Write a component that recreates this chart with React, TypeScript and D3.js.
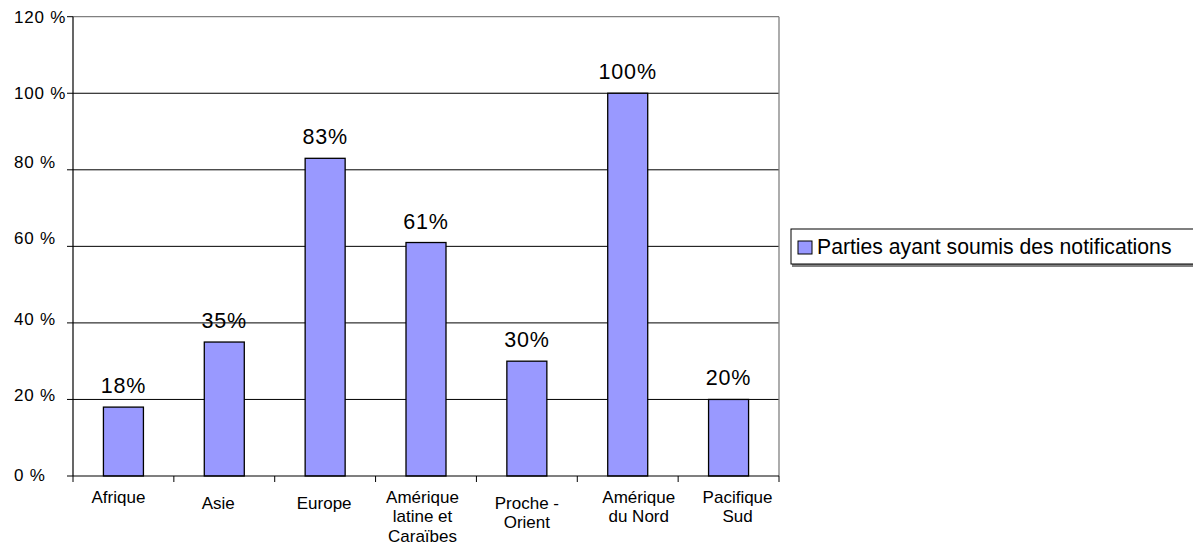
import React from "react";
import * as d3 from "d3";

// Share of parties that submitted notifications, by region
const categories: string[][] = [
  ["Afrique"],
  ["Asie"],
  ["Europe"],
  ["Amérique", "latine et", "Caraïbes"],
  ["Proche -", "Orient"],
  ["Amérique", "du Nord"],
  ["Pacifique", "Sud"],
];
const values: number[] = [18, 35, 83, 61, 30, 100, 20];
const yTicks: number[] = [0, 20, 40, 60, 80, 100, 120];
const seriesName = "Parties ayant soumis des notifications";

// label nudges (layout only)
const catDx: number[] = [-5, -6, -1, -3.5, 0, 11, 9];
const catDy: number[] = [0, 6, 6, 0, 6, 0, 0];
const tickDy: number[] = [5.3, 1.7, 1.7, -2.7, -1.7, 5.7, 6];

const W = 1193;
const H = 547;
const plot = { left: 73, right: 779, top: 16.7, bottom: 476 };
const FONT = "'Liberation Sans', Arial, sans-serif";
const BAR_FILL = "#9999FF";

export default function App() {
  const x = d3
    .scaleBand<number>()
    .domain(d3.range(categories.length))
    .range([plot.left, plot.right])
    .paddingInner(0)
    .paddingOuter(0);
  const y = d3.scaleLinear().domain([0, 120]).range([plot.bottom, plot.top]);
  const barW = 40;
  const bw = x.bandwidth();

  const boundaries = d3.range(categories.length + 1).map((i) => plot.left + i * bw);

  return (
    <svg
      width={W}
      height={H}
      style={{ position: "absolute", left: 0, top: 0, background: "#fff" }}
      fontFamily={FONT}
    >
      <rect x={0} y={0} width={W} height={H} fill="#fff" />
      {/* gridlines */}
      {yTicks
        .filter((t) => t > 0 && t < 120)
        .map((t) => (
          <line
            key={"g" + t}
            x1={plot.left}
            x2={plot.right}
            y1={y(t)}
            y2={y(t)}
            stroke="#000"
            strokeWidth={1}
          />
        ))}
      {/* plot frame (top and right) */}
      <line x1={plot.left} x2={plot.right} y1={y(120)} y2={y(120)} stroke="#808080" strokeWidth={1.3} />
      <line x1={plot.right} x2={plot.right} y1={y(120)} y2={plot.bottom} stroke="#808080" strokeWidth={1.3} />

      {/* bars */}
      {values.map((v, i) => {
        const cx = (x(i) as number) + bw / 2;
        return (
          <g key={"b" + i}>
            <rect
              x={cx - barW / 2}
              y={y(v)}
              width={barW}
              height={plot.bottom - y(v)}
              fill={BAR_FILL}
              stroke="#000"
              strokeWidth={1.3}
            />
            <text
              x={cx}
              y={y(v) - 14}
              textAnchor="middle"
              fontSize={21.5}
              letterSpacing={0.8}
              fill="#000"
            >
              {v}%
            </text>
          </g>
        );
      })}

      {/* y axis */}
      <line x1={plot.left} x2={plot.left} y1={y(120)} y2={plot.bottom} stroke="#000" strokeWidth={1.2} />
      {yTicks.map((t, i) => (
        <g key={"t" + t}>
          <line x1={plot.left - 6} x2={plot.left} y1={y(t)} y2={y(t)} stroke="#000" strokeWidth={1} />
          <text x={14} y={y(t) + tickDy[i]} fontSize={17} letterSpacing={0.8} fill="#000">
            {t} %
          </text>
        </g>
      ))}

      {/* x axis */}
      <line x1={plot.left} x2={plot.right} y1={plot.bottom} y2={plot.bottom} stroke="#000" strokeWidth={1.2} />
      {boundaries.map((bx, i) => (
        <line key={"xt" + i} x1={bx} x2={bx} y1={plot.bottom} y2={plot.bottom + 6} stroke="#000" strokeWidth={1} />
      ))}
      {categories.map((lines, i) => {
        const cx = (x(i) as number) + bw / 2 + catDx[i];
        return (
          <text key={"c" + i} textAnchor="middle" fontSize={17} fill="#000">
            {lines.map((ln, j) => (
              <tspan key={j} x={cx} y={503 + catDy[i] + j * 19.3}>
                {ln}
              </tspan>
            ))}
          </text>
        );
      })}

      {/* legend */}
      <rect x={792} y={231} width={420} height={36} fill="#808080" />
      <rect x={791} y={229} width={420} height={35} fill="#fff" stroke="#000" strokeWidth={1} />
      <rect x={798} y={241} width={14} height={13} fill={BAR_FILL} stroke="#000" strokeWidth={1} />
      <text x={817} y={254} fontSize={21.2} fill="#000">
        {seriesName}
      </text>
    </svg>
  );
}
